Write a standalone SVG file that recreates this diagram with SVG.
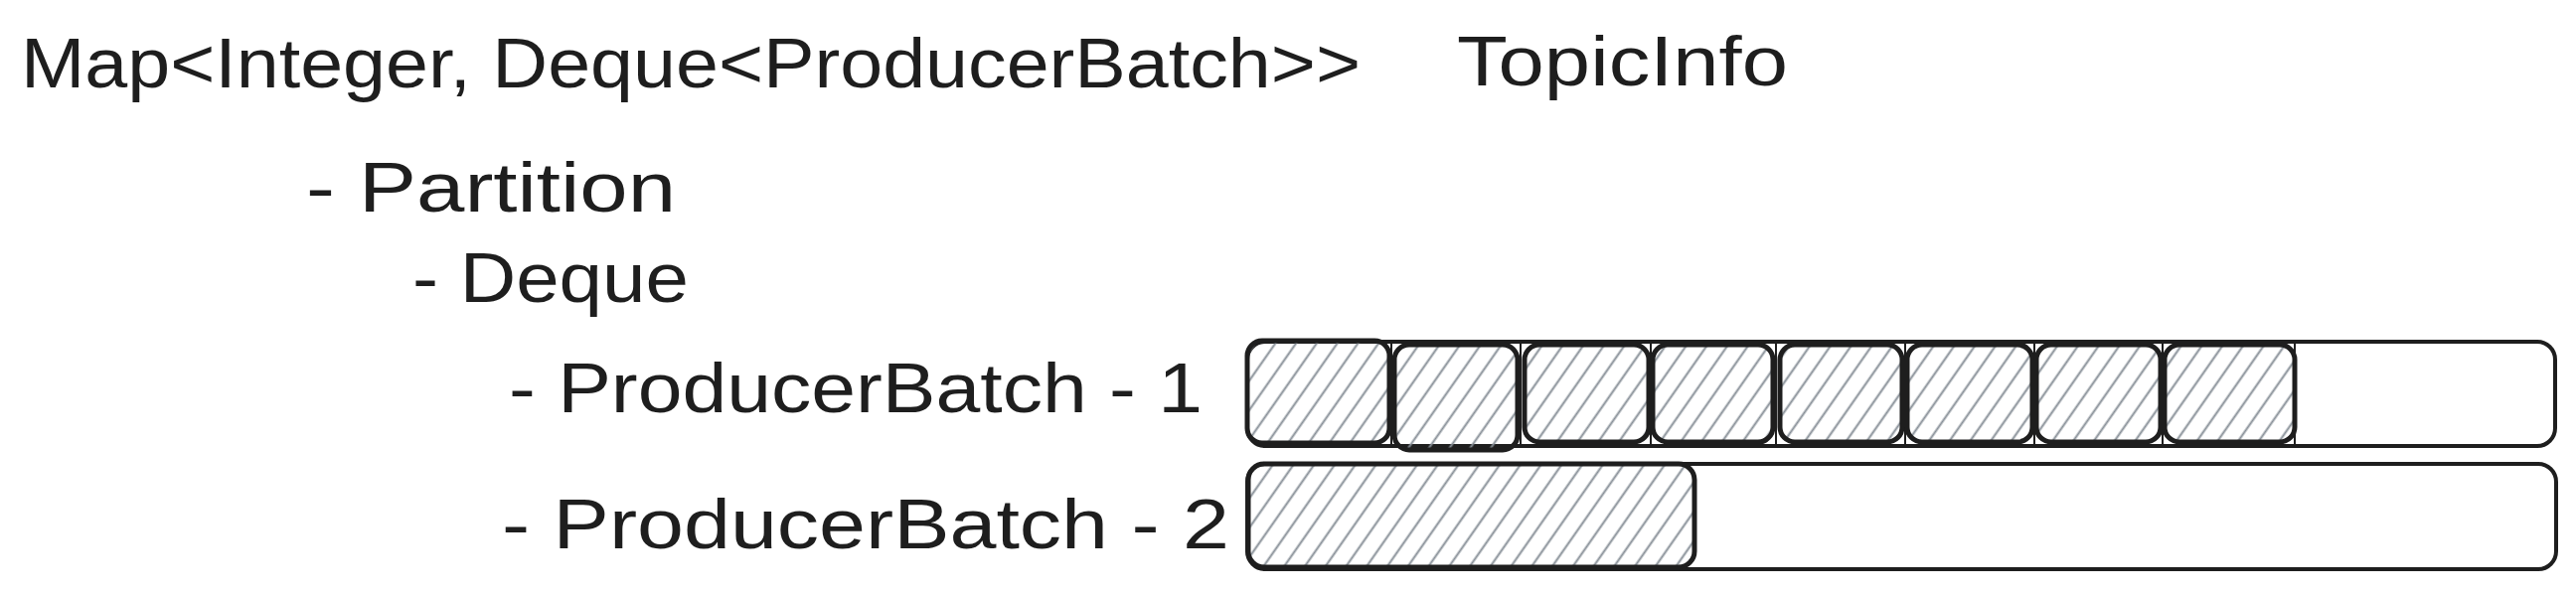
<svg xmlns="http://www.w3.org/2000/svg" width="2592" height="599" viewBox="0 0 2592 599">
  <style>
    .t { font-family: "Liberation Sans", Arial, sans-serif; font-size: 70px; fill: #1e1e1e; }
    .bar { fill: #ffffff; stroke: #1e1e1e; stroke-width: 4; }
    .box { fill: url(#hatch); stroke: #1e1e1e; stroke-width: 5; }
    .tick { stroke: #1e1e1e; stroke-width: 2; }
  </style>
  <defs>
    <pattern id="hatch" width="17" height="17" patternUnits="userSpaceOnUse" patternTransform="rotate(35)">
      <line x1="8.5" y1="0" x2="8.5" y2="17" stroke="#868e96" stroke-width="2"/>
    </pattern>
  </defs>
  <rect width="2592" height="599" fill="#ffffff"/>

  <g id="title-map">
    <text class="t" x="21" y="88" textLength="1348" lengthAdjust="spacingAndGlyphs">Map&lt;Integer, Deque&lt;ProducerBatch&gt;&gt;</text>
  </g>
  <g id="title-topicinfo">
    <text class="t" x="1466" y="86" textLength="333" lengthAdjust="spacingAndGlyphs">TopicInfo</text>
  </g>
  <g id="label-partition">
    <text class="t" x="308" y="213" textLength="372" lengthAdjust="spacingAndGlyphs">- Partition</text>
  </g>
  <g id="label-deque">
    <text class="t" x="415" y="304" textLength="278" lengthAdjust="spacingAndGlyphs">- Deque</text>
  </g>
  <g id="label-batch1">
    <text class="t" x="512" y="415" textLength="698" lengthAdjust="spacingAndGlyphs">- ProducerBatch - 1</text>
  </g>
  <g id="label-batch2">
    <text class="t" x="505" y="552" textLength="732" lengthAdjust="spacingAndGlyphs">- ProducerBatch - 2</text>
  </g>

  <g id="bar-batch1">
    <rect class="bar" x="1255" y="344" width="1316" height="105" rx="18"/>
    <line class="tick" x1="1400" y1="346" x2="1400" y2="447"/>
    <line class="tick" x1="1530" y1="346" x2="1530" y2="447"/>
    <line class="tick" x1="1661" y1="346" x2="1661" y2="447"/>
    <line class="tick" x1="1787" y1="346" x2="1787" y2="447"/>
    <line class="tick" x1="1917" y1="346" x2="1917" y2="447"/>
    <line class="tick" x1="2047" y1="346" x2="2047" y2="447"/>
    <line class="tick" x1="2176" y1="346" x2="2176" y2="447"/>
    <line class="tick" x1="2309" y1="346" x2="2309" y2="447"/>
    <rect class="box" x="1255" y="343" width="143" height="103" rx="15"/>
    <rect class="box" x="1403" y="347" width="124" height="106" rx="15"/>
    <rect class="box" x="1534" y="347" width="125" height="98" rx="15"/>
    <rect class="box" x="1663" y="347" width="121" height="98" rx="15"/>
    <rect class="box" x="1791" y="347" width="123" height="98" rx="15"/>
    <rect class="box" x="1919" y="347" width="126" height="98" rx="15"/>
    <rect class="box" x="2049" y="347" width="125" height="98" rx="15"/>
    <rect class="box" x="2178" y="347" width="131" height="98" rx="15"/>
  </g>

  <g id="bar-batch2">
    <rect class="bar" x="1255" y="467" width="1317" height="106" rx="18"/>
    <rect class="box" x="1256" y="467" width="449" height="104" rx="16"/>
  </g>
</svg>
